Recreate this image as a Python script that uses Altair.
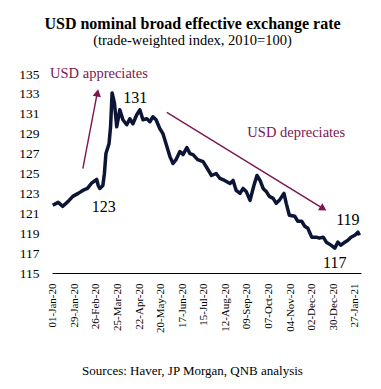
import altair as alt
import pandas as pd

# Series
dates = [
    "2020-01-01", "2020-01-08", "2020-01-14", "2020-01-21", "2020-01-27", "2020-02-03",
    "2020-02-09", "2020-02-15", "2020-02-20", "2020-02-27", "2020-02-29", "2020-03-02",
    "2020-03-06", "2020-03-08", "2020-03-10", "2020-03-14", "2020-03-16", "2020-03-18",
    "2020-03-21", "2020-03-24", "2020-03-28", "2020-04-01", "2020-04-06", "2020-04-10",
    "2020-04-14", "2020-04-19", "2020-04-23", "2020-04-27", "2020-05-02", "2020-05-06",
    "2020-05-10", "2020-05-14", "2020-05-19", "2020-05-23", "2020-05-27", "2020-06-01",
    "2020-06-05", "2020-06-09", "2020-06-14", "2020-06-18", "2020-06-23", "2020-06-27",
    "2020-07-01", "2020-07-07", "2020-07-14", "2020-07-18", "2020-07-25", "2020-07-31",
    "2020-08-05", "2020-08-11", "2020-08-18", "2020-08-22", "2020-08-26", "2020-08-31",
    "2020-09-04", "2020-09-08", "2020-09-13", "2020-09-18", "2020-09-22", "2020-09-26",
    "2020-09-30", "2020-10-04", "2020-10-08", "2020-10-13", "2020-10-17", "2020-10-21",
    "2020-10-27", "2020-10-30", "2020-11-03", "2020-11-10", "2020-11-14", "2020-11-19",
    "2020-11-23", "2020-11-27", "2020-12-02", "2020-12-08", "2020-12-12", "2020-12-17",
    "2020-12-21", "2020-12-27", "2021-01-01", "2021-01-05", "2021-01-09", "2021-01-14",
    "2021-01-18", "2021-01-22", "2021-01-27", "2021-01-31", "2021-02-02",
]
values = [
    121.8, 122.1, 121.7, 122.2, 122.7, 123.0,
    123.3, 123.5, 124.0, 124.4, 123.8, 123.5,
    123.8, 125.0, 127.0, 128.0, 129.7, 133.1,
    132.1, 129.7, 131.4, 130.4, 129.9, 130.5,
    130.0, 130.9, 131.4, 130.4, 130.5, 130.2,
    130.7, 130.4, 129.5, 129.0, 128.0, 126.7,
    126.0, 126.4, 127.2, 126.9, 127.6, 127.0,
    126.9, 126.4, 126.2, 125.7, 124.8, 125.0,
    124.5, 124.3, 124.0, 124.3, 123.3, 123.0,
    123.5, 123.2, 122.3, 123.8, 124.8, 124.3,
    123.5, 123.2, 122.7, 122.5, 122.0, 122.3,
    123.0, 122.0, 120.8, 120.7, 120.2, 120.2,
    119.7, 119.5, 118.6, 118.6, 118.5, 118.6,
    118.1, 117.8, 117.5, 118.1, 117.8, 118.1,
    118.3, 118.6, 118.8, 119.1, 118.8,
]

tick_dates = [
    "2020-01-01", "2020-01-29", "2020-02-26", "2020-03-25", "2020-04-22",
    "2020-05-20", "2020-06-17", "2020-07-15", "2020-08-12", "2020-09-09",
    "2020-10-07", "2020-11-04", "2020-12-02", "2020-12-30", "2021-01-27",
]
y_ticks = [115, 117, 119, 121, 123, 125, 127, 129, 131, 133, 135]

# Annotations (data coordinates)
level_labels = ["131", "123", "119", "117"]
level_dates = ["2020-04-17", "2020-03-07", "2021-01-18", "2021-01-01"]
level_values = [132.1, 121.1, 119.8, 115.5]

trend_labels = ["USD appreciates", "USD depreciates"]
trend_dates = ["2020-03-01", "2020-11-12"]
trend_values = [134.6, 128.7]

arrow_up_dates = ["2020-02-09", "2020-02-28"]
arrow_up_values = [125.5, 133.2]
arrow_down_dates = ["2020-05-28", "2020-12-17"]
arrow_down_values = [131.15, 121.47]
head_dates = ["2020-02-28", "2020-12-17"]
head_values = [133.1, 121.47]
head_angles = [11, 122]

SERIF = "Liberation Serif"
MAROON = "#7d1650"
NAVY = "#0c1536"

df = pd.DataFrame({"date": dates, "value": values})
df_lvl = pd.DataFrame({"date": level_dates, "value": level_values, "label": level_labels})
df_trend = pd.DataFrame({"date": trend_dates, "value": trend_values, "label": trend_labels})
df_a1 = pd.DataFrame({"date": arrow_up_dates, "value": arrow_up_values})
df_a2 = pd.DataFrame({"date": arrow_down_dates, "value": arrow_down_values})
df_head = pd.DataFrame({"date": head_dates, "value": head_values, "angle": head_angles})

xscale = alt.Scale(
    type="utc",
    domain=[alt.DateTime(year=2019, month=12, date=31, utc=True),
            alt.DateTime(year=2021, month=2, date=4, utc=True)],
)
yscale = alt.Scale(domain=[115, 135], nice=False, zero=False)

x_axis = alt.Axis(
    values=tick_dates, format="%d-%b-%y", labelAngle=-90, ticks=False, grid=False,
    domain=True, domainColor="black", domainWidth=1, labelPadding=10,
    labelOverlap=False, labelFlush=False,
    labelFont=SERIF, labelFontSize=11, labelColor="black",
    title="Sources: Haver, JP Morgan, QNB analysis", titleFont=SERIF, titleFontSize=13,
    titleFontWeight="normal", titleColor="black", titleX=140, titleY=101,
    titleBaseline="alphabetic",
)
y_axis = alt.Axis(
    values=y_ticks, domain=False, ticks=False, grid=False, labelPadding=13,
    labelOverlap=False, labelFlush=False,
    labelFont=SERIF, labelFontSize=13.5, labelColor="black", title=None,
)

X = alt.X("date:T", scale=xscale, axis=x_axis)
Y = alt.Y("value:Q", scale=yscale, axis=y_axis)

line = alt.Chart(df).mark_line(color=NAVY, strokeWidth=3.5, strokeJoin="round").encode(x=X, y=Y)

arrow1 = alt.Chart(df_a1).mark_line(color=MAROON, strokeWidth=1.4).encode(x=X, y=Y)
arrow2 = alt.Chart(df_a2).mark_line(color=MAROON, strokeWidth=1.4).encode(x=X, y=Y)
heads = alt.Chart(df_head).mark_point(
    shape="triangle-up", filled=True, color=MAROON, size=70, opacity=1
).encode(x=X, y=Y, angle=alt.Angle("angle:Q", scale=None))

lvl = alt.Chart(df_lvl).mark_text(
    font=SERIF, fontSize=16, color="black", align="center", baseline="alphabetic"
).encode(x=X, y=Y, text="label:N")

trend = alt.Chart(df_trend).mark_text(
    font=SERIF, fontSize=14.5, color=MAROON, align="center", baseline="alphabetic"
).encode(x=X, y=Y, text="label:N")

chart = alt.layer(line, arrow1, arrow2, heads, lvl, trend).properties(
    width=309, height=199,
    autosize=alt.AutoSizeParams(type="none"),
    padding={"left": 44, "top": 66, "right": 12, "bottom": 108},
    title=alt.TitleParams(
        text="USD nominal broad effective exchange rate",
        subtitle="(trade-weighted index, 2010=100)",
        font=SERIF, fontSize=16, fontWeight="bold", color="black",
        subtitleFont=SERIF, subtitleFontSize=14.5, subtitleColor="black",
        anchor="middle", dx=-14, offset=18, subtitlePadding=2,
    ),
).configure_view(stroke=None).configure_axis(labelOverlap=False)

chart.save("out.html", embed_options={"renderer": "svg", "actions": False})
